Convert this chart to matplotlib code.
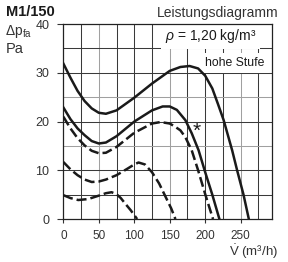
import matplotlib
matplotlib.use("Agg")
import matplotlib.pyplot as plt

plt.rcParams['font.family'] = ['Liberation Sans', 'DejaVu Sans']
plt.rcParams['mathtext.fontset'] = 'custom'
plt.rcParams['mathtext.rm'] = 'Liberation Sans'
plt.rcParams['mathtext.it'] = 'Liberation Sans:italic'

# volume flow (m3/h) and pressure (Pa)
v_s1 = [0, 10, 20, 30, 40, 50, 60, 75, 100, 125, 150, 165, 178, 190, 200, 210, 218, 226, 238, 245, 254, 261.5]
p_s1 = [31.9, 29.0, 26.3, 24.2, 22.7, 21.8, 21.6, 22.3, 24.9, 27.8, 30.4, 31.2, 31.4, 30.9, 29.4, 26.8, 23.6, 20.3, 14.1, 10.0, 5.0, 0]

v_s2 = [0, 10, 20, 30, 40, 50, 60, 75, 100, 125, 140, 150, 160, 172, 181, 190.7, 200, 210, 220]
p_s2 = [22.9, 20.5, 18.6, 17.2, 16.0, 15.5, 15.7, 17.0, 20.0, 22.3, 23.1, 23.1, 22.4, 20.3, 17.6, 14.1, 9.6, 5.0, 0]

v_d1 = [0, 10, 20, 30, 40, 50, 60, 75, 100, 125, 137, 150, 158, 165, 172, 181, 190, 200, 211]
p_d1 = [21.0, 18.6, 16.6, 15.1, 14.0, 13.5, 13.6, 14.8, 17.7, 19.6, 19.9, 19.6, 18.9, 18.2, 16.8, 14.1, 10.0, 5.1, 0]

v_d2 = [0, 10, 20, 30, 40, 50, 60, 75, 90, 100, 106, 115, 125, 135, 145, 152, 158]
p_d2 = [11.7, 10.2, 9.0, 8.1, 7.6, 7.7, 8.1, 9.0, 10.3, 11.2, 11.6, 11.2, 9.6, 7.3, 4.3, 2.2, 0]

v_d3 = [0, 10, 21, 35, 50, 60, 68, 75, 81, 87, 95, 104]
p_d3 = [4.9, 4.3, 3.9, 4.1, 4.8, 5.3, 5.5, 5.1, 4.3, 3.2, 1.8, 0]

x_ticks = [0, 50, 100, 150, 200, 250]
y_ticks = [0, 10, 20, 30, 40]

fig = plt.figure(figsize=(2.88, 2.62), dpi=100)
ax = fig.add_axes([0.22, 0.164, 0.724, 0.744])

ink = '#1a1a1a'
for gx in range(25, 295, 25):
    ax.axvline(gx, color='#a0a0a0' if gx in (50, 150, 250) else '#3a3a3a', lw=0.75, zorder=1)
for gy in range(5, 40, 5):
    ax.axhline(gy, color='#a0a0a0' if gy in (15, 25) else '#3a3a3a', lw=0.75, zorder=1)

ax.plot(v_s1, p_s1, color=ink, lw=1.8, zorder=3)
ax.plot(v_s2, p_s2, color=ink, lw=1.8, zorder=3)
for v, p in [(v_d1, p_d1), (v_d2, p_d2), (v_d3, p_d3)]:
    ax.plot(v, p, color=ink, lw=1.8, dashes=(4, 1.6), zorder=3)

ax.set_xlim(0, 294)
ax.set_ylim(0, 40)
ax.set_xticks(x_ticks)
ax.set_yticks(y_ticks)
ax.tick_params(axis='x', length=3, width=0.8, pad=5, labelsize=8.5, colors='#333333')
ax.tick_params(axis='y', length=4, width=0.8, pad=6, labelsize=9, colors='#333333')
for s in ax.spines.values():
    s.set_linewidth(0.9)
    s.set_color('#222222')

ax.text(272, 37.6, r'$\rho$ = 1,20 kg/m³', ha='right', va='center', fontsize=10, color=ink,
        bbox=dict(facecolor='white', edgecolor='none', pad=3), zorder=2)
ax.text(242, 32.0, 'hohe Stufe', ha='center', va='center', fontsize=8.8, color=ink,
        bbox=dict(facecolor='white', edgecolor='none', pad=3), zorder=2)
ax.text(188, 18.0, '*', ha='center', va='center', fontsize=15, color=ink, zorder=4)

fig.text(0.021, 0.954, 'M1/150', fontsize=10.5, fontweight='bold', ha='left', va='center', color=ink)
fig.text(0.017, 0.878, r'Δp$_{\mathrm{fa}}$', fontsize=10, ha='left', va='center', color='#333333')
fig.text(0.019, 0.814, 'Pa', fontsize=10.5, ha='left', va='center', color='#333333')
fig.text(0.755, 0.95, 'Leistungsdiagramm', fontsize=10, ha='center', va='center', color='#333333')
fig.text(0.965, 0.04, r'$\dot{\mathrm{V}}$ (m³/h)', fontsize=9.5, ha='right', va='center', color='#333333')

fig.savefig('out.png', dpi=100)
